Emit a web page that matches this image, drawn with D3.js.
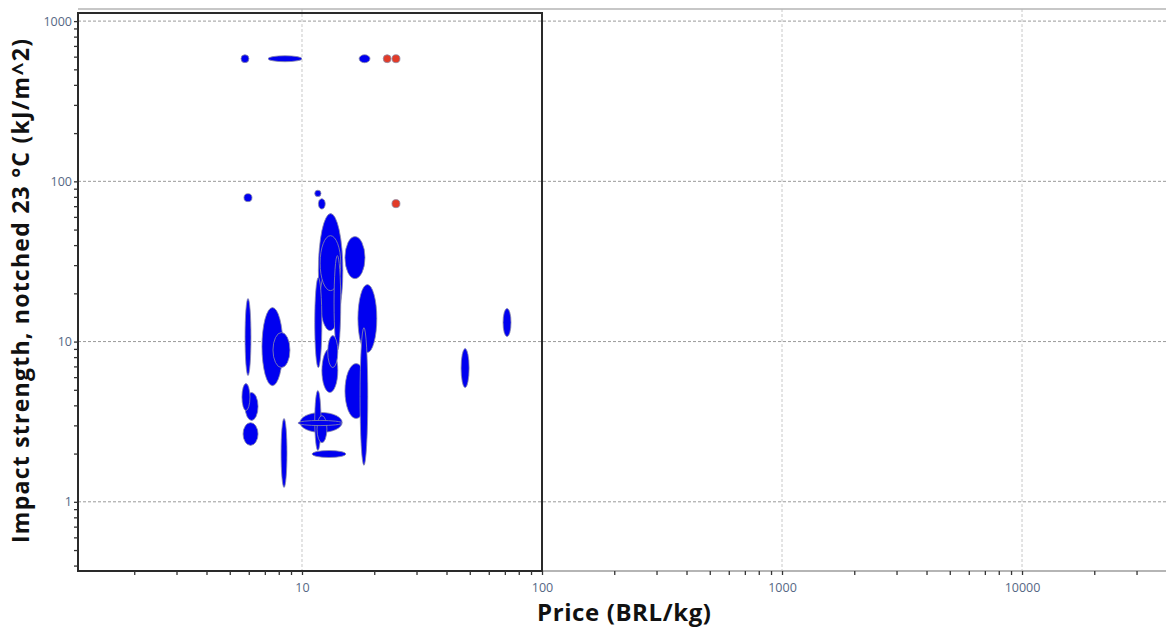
<!DOCTYPE html>
<html>
<head>
<meta charset="utf-8">
<script src="https://cdn.jsdelivr.net/npm/d3@7"></script>
<style>
  body { margin: 0; background: #fff; }
  svg { display: block; font-family: "Open Sans", sans-serif; }
</style>
</head>
<body>
<script>
// ************** Data: one entry per material bubble (ranges) *****************
var priceLow   = [5.57, 7.22, 17.3, 21.8, 23.7, 23.7, 5.73, 11.3, 11.7, 11.7, 11.9, 15.1, 11.3, 13.6, 11.9, 17.1, 17.45, 12.1, 15.1, 12.8, 5.79, 6.81, 7.57, 5.62, 5.79, 5.68, 8.18, 9.81, 9.62, 11.3, 11.55, 11.0, 46.0, 68.8],
    priceHigh  = [6.01, 10.0, 19.2, 23.5, 25.6, 25.6, 6.19, 12.0, 12.5, 14.8, 14.5, 18.3, 12.1, 14.5, 14.4, 20.5, 18.8, 14.1, 18.7, 14.1, 6.13, 8.33, 8.91, 6.07, 6.56, 6.56, 8.66, 14.7, 14.7, 12.0, 12.7, 15.25, 49.7, 74.3],
    impactLow  = [550, 558, 550, 550, 550, 68.5, 74.7, 80.3, 67.1, 12.2, 20.8, 24.7, 6.88, 8.79, 11.7, 8.54, 1.69, 4.81, 3.31, 6.88, 6.14, 5.31, 6.88, 3.71, 3.22, 2.25, 1.23, 2.71, 2.99, 2.09, 2.34, 1.89, 5.16, 10.74],
    impactHigh = [617, 608, 617, 617, 617, 76.9, 83.8, 88.1, 78.0, 62.9, 45.8, 45.2, 25.1, 34.4, 28.9, 22.7, 12.2, 9.04, 7.29, 10.9, 18.55, 16.3, 11.4, 5.47, 4.81, 3.12, 3.31, 3.61, 3.22, 4.95, 3.45, 2.09, 9.04, 16.1],
    highlighted = [0, 0, 0, 1, 1, 1, 0, 0, 0, 0, 0, 0, 0, 0, 0, 0, 0, 0, 0, 0, 0, 0, 0, 0, 0, 0, 0, 0, 0, 0, 0, 0, 0, 0];

var xMajorTicks = [10, 100, 1000, 10000],
    yMajorTicks = [1, 10, 100, 1000],
    xTitle = "Price (BRL/kg)",
    yTitle = "Impact strength, notched 23 \u00B0C (kJ/m^2)";

// ************** Sizes *****************
var width = 1166,
    height = 629,
    plotLeft = 78,
    plotRight = 1166,
    plotTop = 9,
    plotBottom = 571,
    boxRightValue = 100,
    blueColor = "#0000f0",
    redColor = "#e23b28",
    labelColor = "#566784";

var svg = d3.select("body").append("svg")
  .attr("width", width)
  .attr("height", height);

var x = d3.scaleLog().domain([1.166, 39800]).range([plotLeft, plotRight]),
    y = d3.scaleLog().domain([0.37, 1190]).range([plotBottom, plotTop]);

// every 1..9 step of each decade that falls inside the domain
function logTicks(scale) {
  var d = scale.domain(), out = [];
  for (var p = -1; p <= 5; p++) {
    for (var m = 1; m < 10; m++) {
      var v = m * Math.pow(10, p);
      if (v >= d[0] && v <= d[1]) out.push(v);
    }
  }
  return out;
}

// grid lines
svg.append("g").selectAll("line")
  .data(yMajorTicks)
  .enter().append("line")
  .attr("x1", plotLeft).attr("x2", plotRight)
  .attr("y1", d => y(d)).attr("y2", d => y(d))
  .style("stroke", "#9a9a9a")
  .style("stroke-dasharray", "3,2");

svg.append("g").selectAll("line")
  .data(xMajorTicks.filter(d => d !== boxRightValue))
  .enter().append("line")
  .attr("x1", d => x(d)).attr("x2", d => x(d))
  .attr("y1", plotTop).attr("y2", plotBottom)
  .style("stroke", "#c8c8c8")
  .style("stroke-dasharray", "3,2");

// outer grey frame
svg.append("line")
  .attr("x1", plotLeft).attr("x2", plotRight)
  .attr("y1", plotTop).attr("y2", plotTop)
  .style("stroke", "#b5b5b5").style("stroke-width", 1.5);
svg.append("line")
  .attr("x1", plotLeft).attr("x2", plotRight)
  .attr("y1", plotBottom).attr("y2", plotBottom)
  .style("stroke", "#b5b5b5").style("stroke-width", 2);

// bubbles, biggest first so the small ones stay visible
var bubbles = priceLow.map(function (lo, i) {
  return {
    cx: (x(lo) + x(priceHigh[i])) / 2,
    cy: (y(impactLow[i]) + y(impactHigh[i])) / 2,
    rx: (x(priceHigh[i]) - x(lo)) / 2,
    ry: (y(impactLow[i]) - y(impactHigh[i])) / 2,
    red: highlighted[i] === 1
  };
});
bubbles.sort((a, b) => b.rx * b.ry - a.rx * a.ry);

svg.append("g").selectAll("ellipse")
  .data(bubbles)
  .enter().append("ellipse")
  .attr("cx", d => d.cx)
  .attr("cy", d => d.cy)
  .attr("rx", d => d.rx)
  .attr("ry", d => d.ry)
  .style("fill", d => d.red ? redColor : blueColor)
  .style("stroke", "#8e8ea8")
  .style("stroke-width", 0.8);

// black selection box
svg.append("rect")
  .attr("x", plotLeft)
  .attr("y", plotTop + 4)
  .attr("width", x(boxRightValue) - plotLeft)
  .attr("height", plotBottom - plotTop - 4)
  .style("fill", "none")
  .style("stroke", "#2a2a2a")
  .style("stroke-width", 2);

// axes
var xAxis = d3.axisBottom(x)
  .tickValues(logTicks(x))
  .tickSize(4)
  .tickPadding(8)
  .tickFormat(d => xMajorTicks.indexOf(d) >= 0 ? d : "");

var yAxis = d3.axisLeft(y)
  .tickValues(logTicks(y))
  .tickSize(4)
  .tickPadding(2)
  .tickFormat(d => yMajorTicks.indexOf(d) >= 0 ? d : "");

var gx = svg.append("g")
  .attr("transform", "translate(0," + plotBottom + ")")
  .call(xAxis);
var gy = svg.append("g")
  .attr("transform", "translate(" + plotLeft + ",0)")
  .call(yAxis);

[gx, gy].forEach(function (g) {
  g.select(".domain").remove();
  g.selectAll(".tick line").style("stroke", "#333").style("stroke-width", 1.3);
  g.selectAll(".tick text")
    .style("fill", labelColor)
    .style("font-size", "12.5px")
    .style("font-family", "'Open Sans', sans-serif");
});

// axis titles
svg.append("text")
  .attr("x", 624)
  .attr("y", 621)
  .attr("text-anchor", "middle")
  .attr("textLength", 174)
  .attr("lengthAdjust", "spacing")
  .style("font-weight", "bold")
  .style("font-size", "24px")
  .style("fill", "#111")
  .text(xTitle);

svg.append("text")
  .attr("transform", "translate(29,291) rotate(-90)")
  .attr("text-anchor", "middle")
  .attr("textLength", 504)
  .attr("lengthAdjust", "spacing")
  .style("font-weight", "bold")
  .style("font-size", "23px")
  .style("fill", "#111")
  .text(yTitle);
</script>
</body>
</html>
